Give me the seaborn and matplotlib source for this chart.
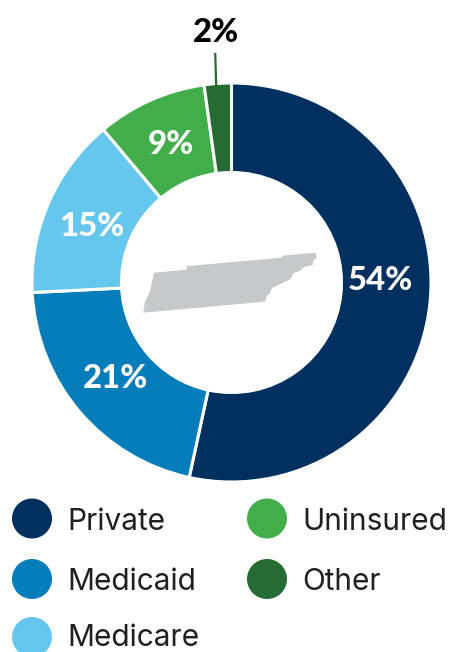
import matplotlib
matplotlib.use("Agg")
import matplotlib.pyplot as plt
import pandas as pd
import seaborn as sns
from matplotlib.patches import Polygon

categories = ["Private", "Medicaid", "Medicare", "Uninsured", "Other"]
labels = ["54%", "21%", "15%", "9%", "2%"]
shares = [53.4, 20.8, 14.7, 8.9, 2.2]
colors = ["#00305f", "#047dba", "#65c7ee", "#41ae4b", "#256b33"]

W, H = 459, 652


def main():
    sns.set_theme(style="white")
    plt.rcParams["font.family"] = ["Inter", "DejaVu Sans"]

    fig = plt.figure(figsize=(W / 100, H / 100), dpi=100)
    ax = fig.add_axes([0, 0, 1, 1])

    # donut, clockwise from the top
    ax.pie(shares, colors=colors, startangle=90, counterclock=False,
           center=(231.5, H - 282.5), radius=199.5,
           wedgeprops={"width": 89.5, "edgecolor": "white", "linewidth": 2.2})

    # labels sit by hand in the ring, not on the wedge centres
    label_pos = [(380.5, 280.5), (116, 378.5), (92, 226.5), (171, 144.5)]
    for text, (x, y) in zip(labels[:4], label_pos):
        ax.text(x, H - y, text, color="white", fontsize=23.7, fontweight=900, family="Lato",
                ha="center", va="center")

    # small slice gets its label outside with a leader
    ax.plot([215.2, 216.2], [H - 53, H - 86], color=colors[4], lw=1.6, solid_capstyle="butt")
    ax.text(216, H - 32, labels[4], color="black", fontsize=23.7, fontweight=900, family="Lato",
            ha="center", va="center")

    # Tennessee outline
    state = [(40, 218), (45, 185), (60, 155), (65, 130), (72, 98), (170, 89), (172, 75),
             (178, 78), (455, 53), (458, 47), (558, 38), (560, 55), (550, 60), (548, 75),
             (525, 80), (510, 92), (490, 100), (482, 118), (465, 125), (445, 135),
             (425, 145), (420, 160), (410, 168), (405, 185)]
    state = [(130 + x / 3, H - (240 + y / 3)) for x, y in state]
    ax.add_patch(Polygon(state, closed=True, facecolor="#c7c8ca", edgecolor="none"))

    # legend, two columns
    legend_df = pd.DataFrame({
        "category": categories,
        "x": [32, 32, 32, 267, 267],
        "y": [H - 518.5, H - 579, H - 637, H - 518.5, H - 579],
        "base": [H - 530.5, H - 590, H - 646, H - 530.5, H - 590],
    })
    sns.scatterplot(data=legend_df, x="x", y="y", hue="category", hue_order=categories,
                    palette=colors, s=830, linewidth=0, legend=False, ax=ax, clip_on=True)
    for _, row in legend_df.iterrows():
        ax.text(row["x"] + 35.2, row["base"], row["category"], color="#231f20", fontsize=21.5,
                ha="left", va="baseline")

    ax.set_xlim(0, W)
    ax.set_ylim(0, H)
    ax.set_aspect("equal")
    ax.axis("off")

    fig.savefig("out.png", dpi=100, facecolor="white")


if __name__ == "__main__":
    main()
